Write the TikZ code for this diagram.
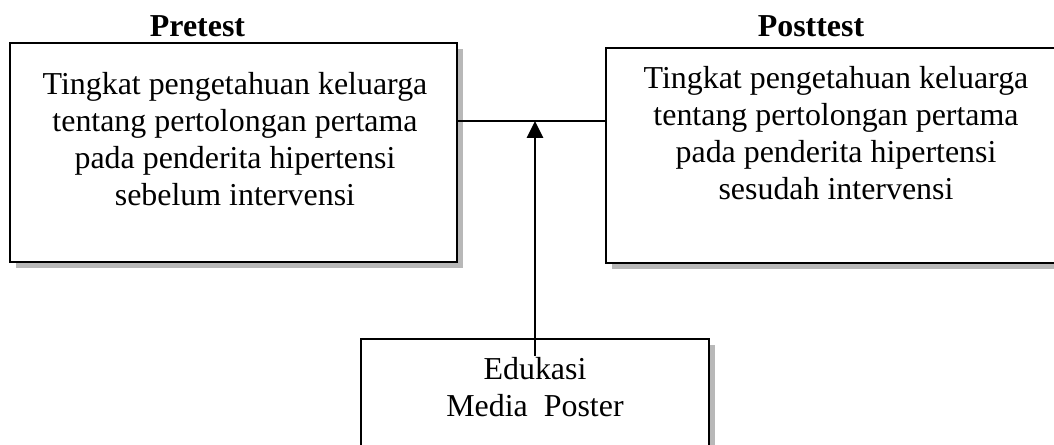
\documentclass[tikz,border=0pt]{standalone}
\usepackage{fontspec}
\setmainfont{Liberation Serif}
\usepackage{tikz}
\usetikzlibrary{shadows,arrows.meta}

\tikzset{
    kotak/.style={draw, line width=1.4pt, fill=white,
        drop shadow={shadow xshift=0.14cm, shadow yshift=-0.14cm, fill=black!28, opacity=1}},
    isi/.style={align=center, inner sep=0pt, anchor=north, font=\fontsize{22.7}{26.3}\selectfont},
    judul/.style={anchor=base, inner sep=0pt, font=\fontsize{22.7}{26.3}\selectfont\bfseries},
    garis/.style={line width=1.4pt},
    panah/.style={line width=1.9pt, -{Triangle[length=0.42cm, width=0.4cm]}},
}

\begin{document}
\begin{tikzpicture}
    \useasboundingbox (0,0) rectangle (26.35,11.1);

    % judul
    \node[judul] (pretest) at (4.9375,10.2) {Pretest};
    \node[judul] (posttest) at (20.275,10.2) {Posttest};

    % kotak pretest dan posttest
    \node[kotak, minimum width=11.175cm, minimum height=5.475cm] (pre) at (5.8375,7.2875) {};
    \node[kotak, minimum width=11.475cm, minimum height=5.375cm] (post) at (20.8875,7.2125) {};
    \node[isi] (preisi) at (5.875,9.3) {Tingkat pengetahuan keluarga\\tentang pertolongan pertama\\pada penderita hipertensi\\sebelum intervensi};
    \node[isi] (postisi) at (20.9,9.45) {Tingkat pengetahuan keluarga\\tentang pertolongan pertama\\pada penderita hipertensi\\sesudah intervensi};

    % kotak edukasi
    \node[kotak, minimum width=8.7cm, minimum height=3.025cm] (edu) at (13.375,1.1125) {};
    \node[isi] (eduisi) at (13.375,2.175) {Edukasi\\Media\ \ Poster};

    % garis penghubung
    \coordinate (temu) at (13.375,8.075);
    \draw[garis] (temu -| pre.east) -- (temu -| post.west);
    \draw[panah] ([yshift=-0.45cm]edu.north) -- (temu);
\end{tikzpicture}
\end{document}
